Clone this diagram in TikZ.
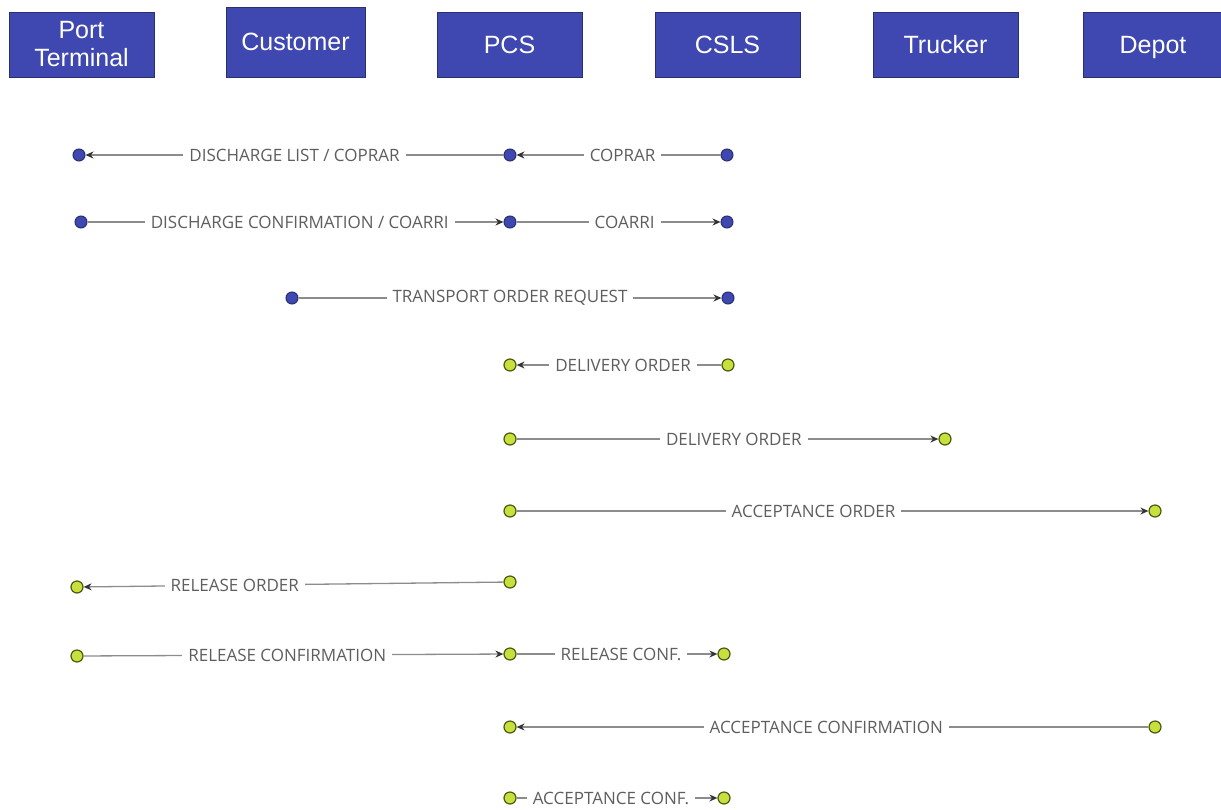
\documentclass[tikz,border=0pt]{standalone}
\usepackage{fontspec}
\setmainfont{Liberation Sans}
\newfontfamily\msgfont{Open Sans}
\usetikzlibrary{arrows.meta}
\definecolor{actorblue}{HTML}{3F48B0}
\definecolor{actoredge}{HTML}{2A2F6E}
\definecolor{msggreen}{HTML}{C9E03C}
\definecolor{greenedge}{HTML}{4A5A12}
\definecolor{wire}{HTML}{8C8C8C}
\definecolor{tipcol}{HTML}{333333}
\definecolor{msgtext}{HTML}{5E5E5E}
\tikzset{
  actor/.style={draw=actoredge, line width=1pt, fill=actorblue, text=white,
    minimum width=145pt, minimum height=65pt, inner sep=0pt, align=center,
    font=\fontsize{25}{28}\selectfont},
  bluedot/.style={circle, draw=actoredge, fill=actorblue, line width=1pt,
    minimum size=12pt, inner sep=0pt},
  greendot/.style={circle, draw=greenedge, fill=msggreen, line width=1.2pt,
    minimum size=12pt, inner sep=0pt},
  msg/.style={draw=wire, line width=1.3pt,
    -{Stealth[length=8pt, width=7pt, color=tipcol]}},
  msglabel/.style={fill=white, text=msgtext, inner sep=6pt,
    font=\msgfont\fontsize{17}{17}\selectfont},
}
\begin{document}
\begin{tikzpicture}[x=1pt, y=-1pt]
\useasboundingbox (0,0) rectangle (1221,809);

% participants
\node[actor] (pt)   at (81.5,44.5)  {Port\\Terminal};
\node[actor, minimum width=139pt, minimum height=70pt] (cust) at (295.5,42) {Customer};
\node[actor] (pcs)  at (509.5,44.5) {PCS};
\node[actor] (csls) at (727.5,44.5) {CSLS};
\node[actor] (truck) at (945.5,44.5) {Trucker};
\node[actor, minimum width=139pt, text depth=0pt] (depot) at (1153,44.5) {Depot};

% message end points
\node[bluedot] (a1) at (79,155) {};
\node[bluedot] (b1) at (510,155) {};
\node[bluedot] (c1) at (727,155) {};
\node[bluedot] (a2) at (81,222) {};
\node[bluedot] (b2) at (510,222) {};
\node[bluedot] (c2) at (727,222) {};
\node[bluedot] (a3) at (292,298) {};
\node[bluedot] (c3) at (728,298) {};
\node[greendot] (b4) at (510,365) {};
\node[greendot] (c4) at (728,365) {};
\node[greendot] (b5) at (510,439) {};
\node[greendot] (t5) at (945,439) {};
\node[greendot] (b6) at (510,511) {};
\node[greendot] (d6) at (1155,511) {};
\node[greendot] (a7) at (77,587) {};
\node[greendot] (b7) at (510,582) {};
\node[greendot] (a8) at (77,656) {};
\node[greendot] (b8) at (510,654) {};
\node[greendot] (c8) at (724,654) {};
\node[greendot] (b9) at (510,727) {};
\node[greendot] (d9) at (1155,727) {};
\node[greendot] (b10) at (510,798) {};
\node[greendot] (c10) at (724,798) {};

% messages
\draw[msg] (b1) -- node[msglabel, pos=0.50] {DISCHARGE LIST / COPRAR} (a1);
\draw[msg] (c1) -- node[msglabel, pos=0.48] {COPRAR} (b1);
\draw[msg] (a2) -- node[msglabel, pos=0.51] {DISCHARGE CONFIRMATION / COARRI} (b2);
\draw[msg] (b2) -- node[msglabel, pos=0.53] {COARRI} (c2);
\draw[msg] (a3) -- node[msglabel, pos=0.50] {TRANSPORT ORDER REQUEST} (c3);
\draw[msg] (c4) -- node[msglabel, pos=0.48] {DELIVERY ORDER} (b4);
\draw[msg] (b5) -- node[msglabel, pos=0.515] {DELIVERY ORDER} (t5);
\draw[msg] (b6) -- node[msglabel, pos=0.47] {ACCEPTANCE ORDER} (d6);
\draw[msg] (b7) -- node[msglabel, pos=0.64] {RELEASE ORDER} (a7);
\draw[msg] (a8) -- node[msglabel, pos=0.485] {RELEASE CONFIRMATION} (b8);
\draw[msg] (b8) -- node[msglabel, pos=0.52] {RELEASE CONF.} (c8);
\draw[msg] (d9) -- node[msglabel, pos=0.51] {ACCEPTANCE CONFIRMATION} (b9);
\draw[msg] (b10) -- node[msglabel, pos=0.47] {ACCEPTANCE CONF.} (c10);
\end{tikzpicture}
\end{document}
